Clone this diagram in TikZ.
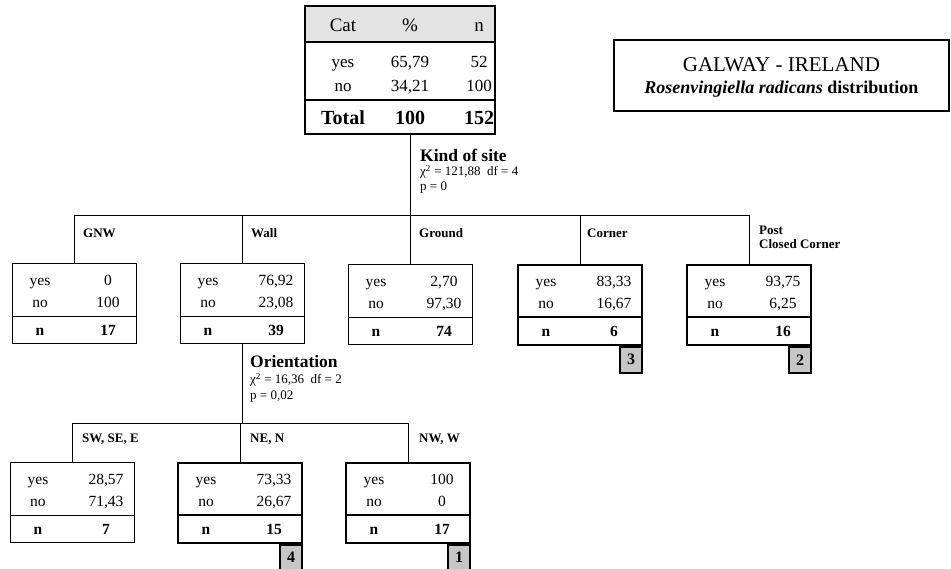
\documentclass[tikz,border=0pt]{standalone}
\usepackage{fontspec}
\setmainfont{Liberation Serif}
\usetikzlibrary{calc}
\newcommand{\fsz}[1]{\fontsize{#1}{#1}\selectfont}
\newcommand{\leaftab}[7]{%
  \node[tabbox,#7] (#1) at (#2,#3) {};
  \draw[#7] ($(#1.north west)+(0,53)$) -- ($(#1.north east)+(0,53)$);
  \node[cell] (#1-ly) at ($(#1.north)+(-34,22.5)$) {yes};
  \node[cell] (#1-vy) at ($(#1.north)+(34,22.5)$) {#4};
  \node[cell] (#1-ln) at ($(#1.north)+(-34,44.5)$) {no};
  \node[cell] (#1-vn) at ($(#1.north)+(34,44.5)$) {#5};
  \node[cellb] (#1-lt) at ($(#1.north)+(-34,72.5)$) {n};
  \node[cellb] (#1-vt) at ($(#1.north)+(34,72.5)$) {#6};
}
\begin{document}
\begin{tikzpicture}[x=1pt,y=-1pt,
  thinline/.style={line width=0.9pt},
  thickline/.style={line width=1.9pt},
  tabbox/.style={draw, minimum width=124pt, minimum height=80pt, anchor=north, inner sep=0pt},
  cell/.style={font=\fsz{15.5}, inner sep=0pt, anchor=base},
  cellb/.style={font=\fsz{15.5}\bfseries, inner sep=0pt, anchor=base},
  rcell/.style={font=\fsz{17}, inner sep=0pt, anchor=base},
  rhead/.style={font=\fsz{19}, inner sep=0pt, anchor=base},
  rtotal/.style={font=\fsz{20}\bfseries, inner sep=0pt, anchor=base},
  conn/.style={line width=0.9pt},
  brlabel/.style={font=\fsz{13}\bfseries, anchor=west, inner sep=0pt, align=left},
  splitlab/.style={font=\fsz{17.5}\bfseries, anchor=west, inner sep=0pt},
  statlab/.style={font=\fsz{13}, anchor=west, inner sep=0pt},
  badge/.style={draw, line width=1.6pt, fill=gray!45, minimum width=22pt, minimum height=26pt, anchor=north east, inner sep=0pt, font=\fsz{16}\bfseries},
]
\useasboundingbox (0,0) rectangle (951,568);

% root table
\fill[gray!22] (304,5) rectangle (494,42);
\node[draw, thickline, minimum width=190pt, minimum height=128pt, anchor=north west, inner sep=0pt] (root) at (304,5) {};
\draw[line width=1.5pt] ($(root.north west)+(0,37)$) -- ($(root.north east)+(0,37)$);
\draw[line width=1.5pt] ($(root.north west)+(0,95)$) -- ($(root.north east)+(0,95)$);
\node[rhead] (hcat) at (343,31) {Cat};
\node[rhead] (hpct) at (410,31) {\%};
\node[rhead] (hn) at (479,31) {n};
\node[rcell] (ryes) at (343,67) {yes};
\node[rcell] (ryesp) at (410,67) {65,79};
\node[rcell] (ryesn) at (479,67) {52};
\node[rcell] (rno) at (343,91) {no};
\node[rcell] (rnop) at (410,91) {34,21};
\node[rcell] (rnon) at (479,91) {100};
\node[rtotal] (rtot) at (343,124) {Total};
\node[rtotal] (rtotp) at (410,124) {100};
\node[rtotal] (rtotn) at (479,124) {152};

% title
\node[draw, line width=1.9pt, minimum width=335pt, minimum height=71pt, anchor=north west, inner sep=0pt] (title) at (613,39) {};
\node[font=\fsz{21}, inner sep=0pt] (t1) at ($(title.north)+(0,26)$) {GALWAY - IRELAND};
\node[font=\fsz{18}\bfseries, inner sep=0pt] (t2) at ($(title.north)+(0,50)$) {\textit{Rosenvingiella radicans} distribution};

% first level leaves
\leaftab{GNW}{74}{263}{0}{100}{17}{thinline}
\leaftab{Wall}{242}{263}{76,92}{23,08}{39}{thinline}
\leaftab{Ground}{410}{264}{2,70}{97,30}{74}{thinline}
\leaftab{Corner}{580}{264}{83,33}{16,67}{6}{thickline}
\leaftab{Post}{749}{264}{93,75}{6,25}{16}{thickline}

% second level leaves
\leaftab{SW}{72}{462}{28,57}{71,43}{7}{thinline}
\leaftab{NE}{240}{462}{73,33}{26,67}{15}{thickline}
\leaftab{NW}{408}{462}{100}{0}{17}{thickline}

% badges
\node[badge] (b3) at (Corner.south east) {3};
\node[badge] (b2) at (Post.south east) {2};
\node[badge] (b4) at (NE.south east) {4};
\node[badge] (b1) at (NW.south east) {1};

% connectors level 1
\coordinate (bus1) at (410,215);
\draw[conn] (root.south -| bus1) -- (bus1);
\draw[conn] (GNW.north) -- (GNW.north |- bus1) -- (Post.north |- bus1) -- (Post.north);
\draw[conn] (Wall.north) -- (Wall.north |- bus1);
\draw[conn] (Ground.north) -- (Ground.north |- bus1);
\draw[conn] (Corner.north) -- (Corner.north |- bus1);

% connectors level 2
\coordinate (bus2) at (242,423);
\draw[conn] (Wall.south) -- (Wall.south |- bus2);
\draw[conn] (SW.north) -- (SW.north |- bus2) -- (NW.north |- bus2) -- (NW.north);
\draw[conn] (NE.north) -- (NE.north |- bus2);

% split labels
\node[splitlab] (kos) at (420,155) {Kind of site};
\node[statlab] (kos2) at (420,172) {χ\textsuperscript{2} = 121,88 \ df = 4};
\node[statlab] (kos3) at (420,188) {p = 0};
\node[splitlab] (ori) at (250,362) {Orientation};
\node[statlab] (ori2) at (250,380) {χ\textsuperscript{2} = 16,36 \ df = 2};
\node[statlab] (ori3) at (250,397) {p = 0,02};

% branch labels
\node[brlabel] (lgnw) at (83,233) {GNW};
\node[brlabel] (lwall) at (251,233) {Wall};
\node[brlabel] (lground) at (419,233) {Ground};
\node[brlabel] (lcorner) at (587,233) {Corner};
\node[brlabel, anchor=north west] (lpost) at (759,226) {Post\\[1pt]Closed Corner};
\node[brlabel] (lsw) at (82,439) {SW, SE, E};
\node[brlabel] (lne) at (250,439) {NE, N};
\node[brlabel] (lnw) at (419,439) {NW, W};
\end{tikzpicture}
\end{document}
